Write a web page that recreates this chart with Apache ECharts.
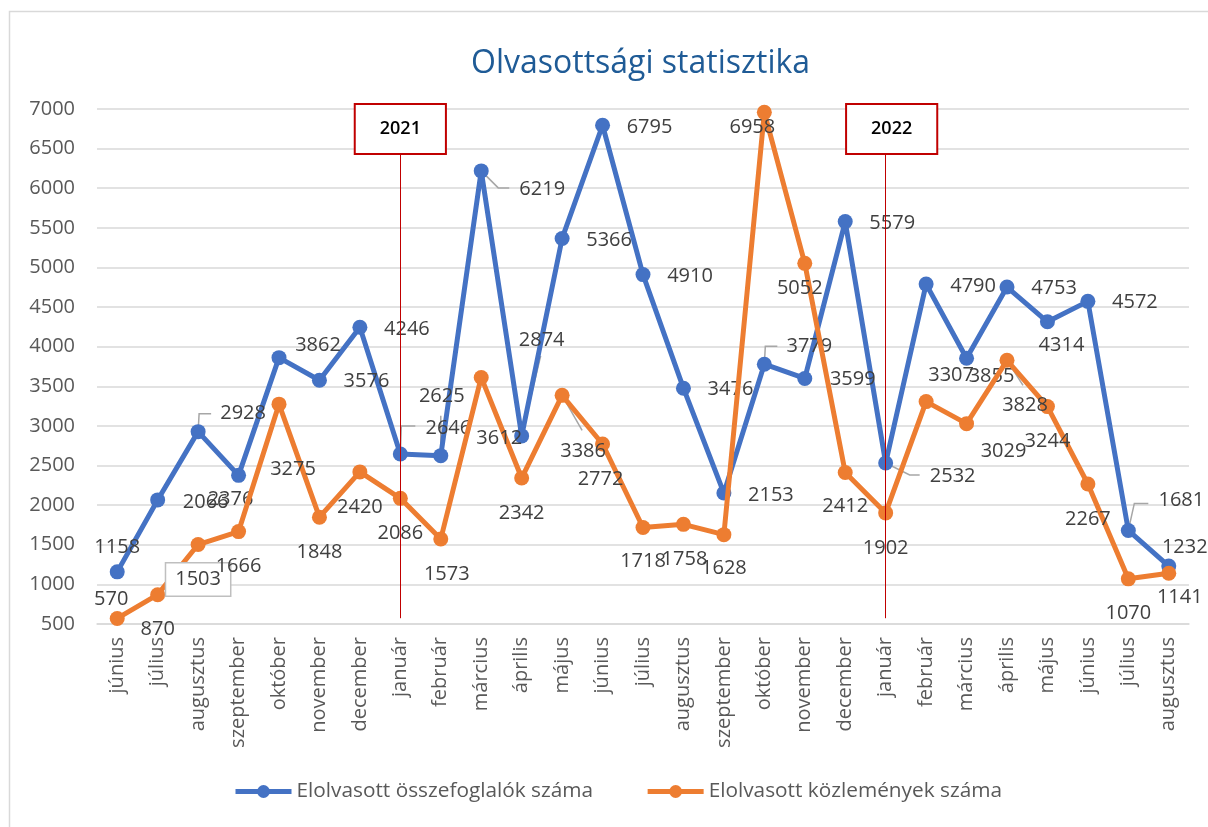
<!DOCTYPE html>
<html>
<head>
<meta charset="utf-8">
<script src="https://cdn.jsdelivr.net/npm/echarts@6/dist/echarts.min.js"></script>
<style>
html,body{margin:0;padding:0;background:#fff;}
#chart{width:1208px;height:827px;}
</style>
</head>
<body>
<div id="chart"></div>
<script>
// ---- data ----
const categories = ['június','július','augusztus','szeptember','október','november','december','január','február','március','április','május','június','július','augusztus','szeptember','október','november','december','január','február','március','április','május','június','július','augusztus'];
const blueName = 'Elolvasott összefoglalók száma';
const orangeName = 'Elolvasott közlemények száma';
const blueValues = [1158,2066,2928,2376,3862,3576,4246,2646,2625,6219,2874,5366,6795,4910,3476,2153,3779,3599,5579,2532,4790,3855,4753,4314,4572,1681,1232];
const orangeValues = [570,870,1503,1666,3275,1848,2420,2086,1573,3612,2342,3386,2772,1718,1758,1628,6958,5052,2412,1902,3307,3029,3828,3244,2267,1070,1141];
const yTicks = {min: 500, max: 7000, interval: 500};
const yearMarkers = [{index: 7, text: '2021'}, {index: 19, text: '2022'}];

// ---- label placement (pixels, relative to the point) ----
const blueLabelOffset = [[0,-25],[48,2],[45,-18],[-8,24],[39,-12],[47,1],[47,2],[48,-26],[1,-59],[61,18],[20,-96],[47,2],[47,2],[47,2],[47,1],[47,2],[45,-18],[48,1],[47,2],[67,13],[47,2],[25,18],[47,1],[14,23],[47,1],[53,-30],[16,-19]];
const orangeLabelOffset = [[-6,-19],[0,35],[0,35],[0,35],[14,65],[0,35],[0,35],[0,35],[6,35],[18,61],[0,35],[21,56],[-2,35],[0,34],[1,35],[0,34],[-12,15],[-5,25],[0,34],[0,35],[25,-26],[37,28],[18,45],[0,35],[0,35],[0,34],[11,24]];
const blueLeaders = {2:[[1,-18],[13,-18]],7:[[1,-28],[15,-28]],8:[[0,-40]],9:[[17,17],[28,17]],10:[[19,-80]],16:[[1,-18],[13,-18]],19:[[24,12],[34,12]],25:[[6,-27],[20,-27]]};
const orangeLeaders = {4:[[15,43]],9:[[18,41]],11:[[20,35]],22:[[16,25]]};
const orangeBoxed = [2];

const FONT = 'Open Sans';
const LABEL_COLOR = '#404040';

function buildData(values, offsets, boxed) {
  return values.map((v, i) => {
    const lab = {offset: offsets[i]};
    if (boxed && boxed.indexOf(i) >= 0) {
      Object.assign(lab, {borderColor: '#BFBFBF', borderWidth: 1.5, backgroundColor: '#fff', padding: [6, 9]});
    }
    return {value: v, label: lab};
  });
}

function leaderSeries(values, leaders) {
  return {
    type: 'custom',
    z: 1,
    silent: true,
    data: values.map((v, i) => [i, v]),
    encode: {x: 0, y: 1},
    renderItem: function (params, api) {
      const i = params.dataIndex;
      const l = leaders[i];
      if (!l) return null;
      const p = api.coord([api.value(0), api.value(1)]);
      const pts = [p].concat(l.map(d => [p[0] + d[0], p[1] + d[1]]));
      return {type: 'polyline', shape: {points: pts}, style: {stroke: '#A6A6A6', lineWidth: 1.5, fill: null}};
    }
  };
}

const chart = echarts.init(document.getElementById('chart'));
const commonLabel = {show: true, position: 'inside', color: LABEL_COLOR, fontFamily: FONT, fontSize: 20};

const option = {
  animation: false,
  backgroundColor: '#fff',
  graphic: [{
    type: 'rect', shape: {x: 9.5, y: 11.5, width: 1230, height: 840},
    style: {fill: 'none', stroke: '#D9D9D9', lineWidth: 1.5}, silent: true, z: -1
  }],
  title: {
    text: 'Olvasottsági statisztika', left: 466, top: 43,
    textStyle: {color: '#1F5B96', fontFamily: FONT, fontSize: 32, fontWeight: 'normal'}
  },
  legend: {
    data: [blueName, orangeName], left: 233, top: 781, padding: 0,
    itemWidth: 56, itemHeight: 16, itemGap: 52,
    lineStyle: {width: 5},
    textStyle: {color: '#595959', fontFamily: FONT, fontSize: 20.8}
  },
  grid: {left: 97, right: 19, top: 109, bottom: 203, containLabel: false},
  xAxis: {
    type: 'category', data: categories, boundaryGap: true,
    axisLine: {lineStyle: {color: '#D9D9D9', width: 1.5}},
    axisTick: {show: false},
    axisLabel: {rotate: 90, interval: 0, margin: 13, color: '#595959', fontFamily: FONT, fontSize: 20}
  },
  yAxis: {
    type: 'value', min: yTicks.min, max: yTicks.max, interval: yTicks.interval,
    axisLine: {show: false}, axisTick: {show: false},
    splitLine: {lineStyle: {color: '#D9D9D9', width: 1.5}},
    axisLabel: {margin: 22, color: '#595959', fontFamily: FONT, fontSize: 20, formatter: v => String(v)}
  },
  series: [
    leaderSeries(blueValues, blueLeaders),
    leaderSeries(orangeValues, orangeLeaders),
    {
      name: blueName, type: 'line', z: 3,
      data: buildData(blueValues, blueLabelOffset, null),
      symbol: 'circle', symbolSize: 15,
      itemStyle: {color: '#4472C4'},
      lineStyle: {color: '#4472C4', width: 5},
      label: commonLabel,
      markLine: {
        silent: true, symbol: 'none',
        lineStyle: {color: '#C00000', width: 1, type: 'solid'},
        data: yearMarkers.map((m, k) => [
          {coord: [m.index, 573]},
          {coord: [m.index, 6444], label: {
            show: true, position: 'end', distance: 0, formatter: m.text,
            color: '#000', fontFamily: FONT, fontSize: 18, fontWeight: 600, lineHeight: 20,
            borderColor: '#C00000', borderWidth: 2, backgroundColor: '#fff', padding: [14, 24],
            offset: k === 1 ? [6, 0] : [0, 0]
          }}
        ])
      }
    },
    {
      name: orangeName, type: 'line', z: 4,
      data: buildData(orangeValues, orangeLabelOffset, orangeBoxed),
      symbol: 'circle', symbolSize: 15,
      itemStyle: {color: '#ED7D31'},
      lineStyle: {color: '#ED7D31', width: 5},
      label: commonLabel
    }
  ]
};
chart.setOption(option);
</script>
</body>
</html>
